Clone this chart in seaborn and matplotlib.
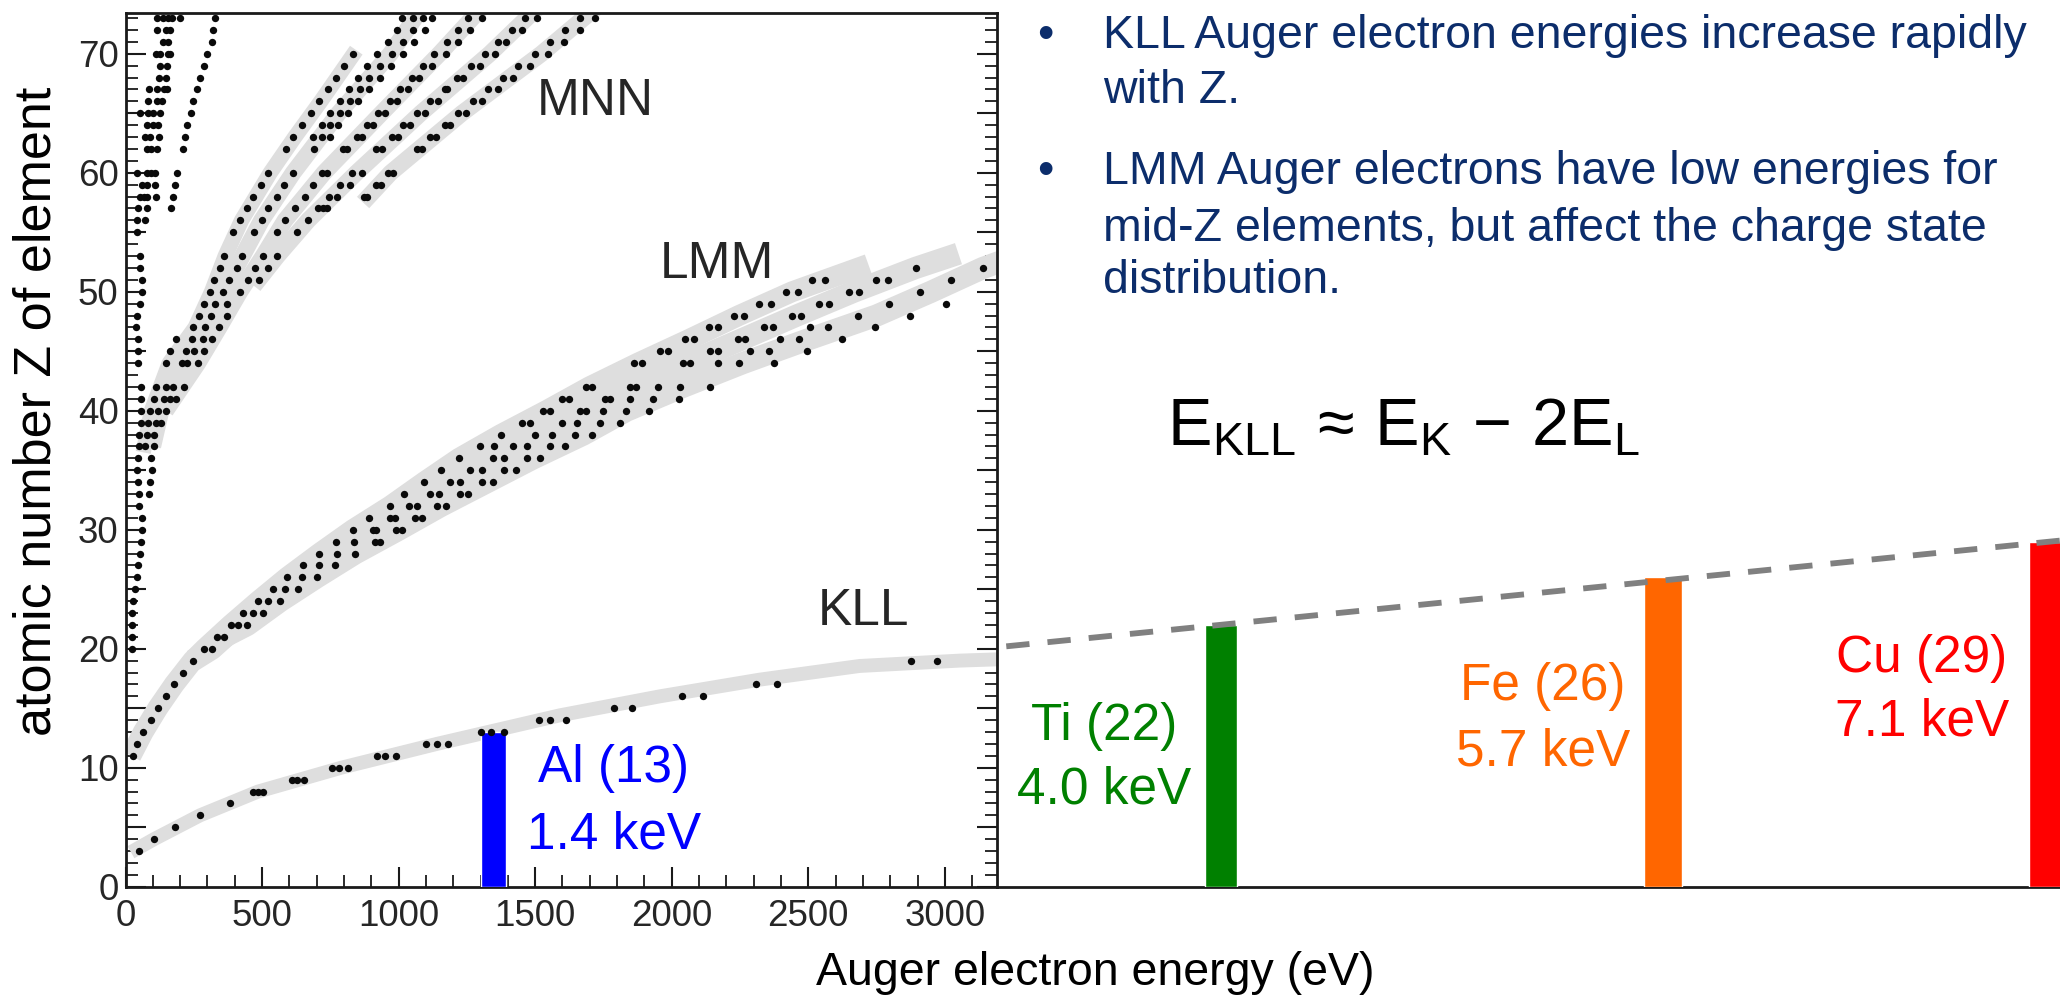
import matplotlib
matplotlib.use("Agg")
import matplotlib.pyplot as plt
import seaborn as sns
import pandas as pd
from matplotlib.ticker import MultipleLocator, FuncFormatter

# ------------------------------------------------------------------
# Data (energies in eV, Z = atomic number)
# ------------------------------------------------------------------
# KLL Auger lines (black dots)
kll_z = [3, 4, 5, 6, 7, 8, 9, 10, 11, 12, 13, 14, 15, 16, 17, 19]
kll_e = [[49], [105], [181], [273], [383], [468, 486, 504], [608, 629, 653],
         [757, 782, 815], [922, 952, 990], [1102, 1139, 1182], [1300, 1340, 1387],
         [1514, 1554, 1612], [1789, 1856], [2038, 2115], [2310, 2384], [2878, 2973]]

# LMM Auger lines
lmm_z = [11, 12, 13, 14, 15, 16, 17, 18, 19, 20, 21, 22, 23, 24, 25, 26, 27, 28, 29,
         30, 31, 32, 33, 34, 35, 36, 37, 38, 39, 40, 41, 42, 44, 45, 46, 47, 48, 49,
         50, 51, 52]
lmm_e = [[26], [43], [65], [92], [118], [147], [178], [212], [246], [289, 316],
         [334, 361], [385, 413, 446], [431, 468, 504], [486, 523, 566],
         [539, 584, 633], [592, 645, 700], [649, 709, 767], [709, 773, 840],
         [770, 836, 913, 932], [832, 905, 917, 990, 1011], [892, 968, 986, 1060, 1086],
         [970, 1039, 1066, 1139, 1172], [1019, 1114, 1149, 1224, 1255],
         [1093, 1188, 1224, 1304, 1344], [1154, 1261, 1307, 1387, 1429],
         [1221, 1344, 1387, 1469, 1517], [1298, 1350, 1420, 1471, 1554, 1609],
         [1374, 1499, 1560, 1645, 1707], [1450, 1480, 1600, 1654, 1737, 1810],
         [1530, 1555, 1666, 1686, 1749, 1834, 1917],
         [1600, 1625, 1755, 1773, 1847, 1932, 2027],
         [1688, 1709, 1847, 1869, 1950, 2032, 2139],
         [1861, 1892, 2042, 2066, 2170, 2245, 2373],
         [1956, 1985, 2139, 2168, 2286, 2355, 2497],
         [2048, 2081, 2243, 2270, 2398, 2465, 2625],
         [2136, 2170, 2338, 2371, 2508, 2573, 2743],
         [2227, 2265, 2441, 2475, 2682, 2874],
         [2320, 2363, 2540, 2576, 2796, 3006],
         [2420, 2463, 2648, 2685, 2908],
         [2514, 2563, 2747, 2792, 3024],
         [2893, 3140]]

# MNN Auger lines
mnn_z = [37, 38, 39, 40, 41, 42, 44, 45, 46, 47, 48, 49, 50, 51, 52, 53, 55, 56, 57,
         58, 59, 60, 62, 63, 64, 65, 66, 67, 68, 69, 70, 71, 72, 73]
mnn_e = [[72, 106], [79, 106], [84, 111, 129], [88, 118, 147], [106, 140, 163, 186],
         [113, 147, 175, 215], [147, 208, 227, 265], [163, 220, 249, 288],
         [186, 242, 283, 317], [248, 291, 343], [270, 312, 370], [287, 328, 370],
         [309, 358, 419], [324, 380, 449, 490], [346, 407, 474, 523],
         [361, 428, 504, 556], [392, 470, 553, 629], [419, 498, 584, 669],
         [444, 523, 620, 706, 724, 736], [468, 553, 657, 746, 775, 873, 885],
         [495, 580, 687, 785, 822, 919, 934], [523, 614, 718, 736, 828, 865, 962, 980],
         [586, 690, 797, 812, 919, 938, 1068, 1084],
         [614, 685, 718, 749, 846, 865, 974, 999, 1115, 1137],
         [645, 718, 749, 779, 883, 907, 1017, 1041, 1169, 1188],
         [678, 749, 785, 816, 925, 950, 1066, 1096, 1218, 1246],
         [709, 785, 822, 852, 968, 993, 1115, 1145, 1273, 1304],
         [740, 819, 858, 892, 1005, 1035, 1169, 1178, 1328, 1365],
         [770, 852, 892, 932, 1048, 1075, 1212, 1237, 1383, 1419],
         [800, 883, 932, 971, 1088, 1121, 1265, 1298, 1438, 1481],
         [834, 922, 974, 1017, 1130, 1173, 1316, 1352, 1499, 1548],
         [962, 1017, 1056, 1176, 1218, 1365, 1395, 1554, 1605],
         [993, 1053, 1096, 1218, 1261, 1414, 1450, 1609, 1664],
         [1011, 1053, 1090, 1121, 1255, 1304, 1462, 1505, 1664, 1718]]

# low-energy lines close to the Z axis
low_z = [20, 21, 22, 23, 24, 25, 26, 27, 28, 29, 30, 31, 32, 33, 34, 35, 36, 37, 38,
         39, 40, 41, 42, 44, 45, 46, 47, 48, 49, 50, 51, 52, 53, 55, 56, 57, 58, 59,
         60, 62, 63, 64, 65, 66, 67, 68, 69, 70, 71, 72, 73]
low_e = [[22], [23], [23], [25], [29], [35], [41], [44], [53], [55], [59], [59], [51],
         [51, 86], [47, 90], [41, 96], [47, 92], [50], [50], [55], [55], [57], [57],
         [45], [45], [45], [40], [41], [53], [59], [59], [53], [53], [43], [43, 71],
         [47, 80, 165], [53, 66, 78, 111, 175], [59, 80, 108, 181],
         [41, 78, 95, 108, 190], [80, 95, 114, 212], [71, 90, 124, 218],
         [80, 100, 120, 226], [53, 84, 102, 126, 239], [84, 114, 132, 248],
         [87, 114, 141, 153, 260], [124, 148, 273], [126, 151, 287],
         [110, 126, 157, 163, 297], [138, 157, 316], [117, 148, 163, 322],
         [114, 138, 157, 169, 199, 328]]

# grey line-width bands (centre lines)
kll_band_z = [2.9, 4, 6, 8, 10, 12, 14.4, 16.0, 17.4, 18.55, 19.0, 19.15]
kll_band_e = [20, 105, 273, 486, 790, 1140, 1590, 1957, 2322, 2688, 3054, 3250]
lmm_band1_z = [11, 13, 15, 17, 19, 20, 22, 24, 26, 28, 30, 32, 34, 36, 38, 40, 42,
               44, 46, 48, 50, 52.3]
lmm_band1_e = [20, 65, 118, 178, 246, 290, 385, 486, 592, 709, 832, 970, 1093, 1221,
               1374, 1540, 1698, 1876, 2064, 2246, 2441, 2720]
lmm_band2_z = [19, 20, 22, 24, 26, 28, 30, 32, 34, 36, 38, 40, 42, 44, 46, 48, 50,
               52, 53.2]
lmm_band2_e = [246, 316, 413, 523, 645, 773, 911, 1052, 1206, 1365, 1530, 1676, 1858,
               2054, 2257, 2458, 2666, 2893, 3050]
lmm_band3_z = [21, 22, 24, 26, 28, 30, 32, 34, 36, 38, 40, 42, 44, 46, 48, 50, 52, 53]
lmm_band3_e = [361, 446, 566, 700, 840, 1000, 1155, 1324, 1493, 1676, 1834, 2040,
               2260, 2500, 2750, 2950, 3140, 3260]
mnn_band1_z = [36.5, 40, 44, 47, 50, 53, 56, 60, 63, 66, 70.3]
mnn_band1_e = [65, 95, 160, 255, 315, 365, 425, 530, 620, 715, 845]
mnn_band2_z = [37, 40, 44, 47, 50, 53, 56, 60, 65, 70, 74]
mnn_band2_e = [100, 130, 225, 291, 358, 428, 498, 614, 780, 970, 1090]
mnn_band3_z = [40, 44, 47, 50, 53, 56, 60, 65, 70, 74]
mnn_band3_e = [147, 265, 343, 419, 504, 584, 727, 937, 1150, 1310]
mnn_band4_z = [50.5, 53, 56, 60, 65, 70, 74]
mnn_band4_e = [470, 556, 669, 846, 1081, 1334, 1515]
mnn_band5_z = [57.5, 60, 65, 70, 74]
mnn_band5_e = [870, 971, 1232, 1523, 1730]

# highlighted elements (KLL energy in eV, Z)
elem_names = ["Al", "Ti", "Fe", "Cu"]
elem_z = [13, 22, 26, 29]
elem_e = [1347, 4011, 5628, 7030]
elem_w = [92, 120, 139, 120]
elem_kev = ["1.4 keV", "4.0 keV", "5.7 keV", "7.1 keV"]
elem_colors = ["#0000ff", "#008000", "#ff6600", "#ff0000"]

# dashed trend line across the bar tops
trend_e = [3225, 7090]
trend_z = [20.2, 29.1]

bullets = [["KLL Auger electron energies increase rapidly", "with Z."],
           ["LMM Auger electrons have low energies for",
            "mid-Z elements, but affect the charge state", "distribution."]]

# ------------------------------------------------------------------
sns.set_theme(style="white")
plt.rcParams["font.family"] = ["Liberation Sans", "DejaVu Sans"]
plt.rcParams["mathtext.fontset"] = "custom"
plt.rcParams["mathtext.rm"] = "Liberation Sans"
plt.rcParams["mathtext.it"] = "Liberation Sans:italic"

W, H = 2060, 997
fig = plt.figure(figsize=(W / 100, H / 100), dpi=100)


def fx(x):
    return x / W


def fy(y):
    return 1 - y / H


X0, X1, Y0, Y1 = 125.5, 996.7, 886.7, 12.7
EMAX = 3190.0
ZMAX = 73.45
pxe = (X1 - X0) / EMAX

ax = fig.add_axes([fx(X0), fy(Y0), (X1 - X0) / W, (Y0 - Y1) / H])
ax2 = fig.add_axes([fx(X1), fy(Y0), (W - X1) / W, (Y0 - Y1) / H])
ax2.patch.set_alpha(0)


def flat(zs, es):
    return pd.DataFrame({"Z": [z for z, row in zip(zs, es) for _ in row],
                         "E": [e for row in es for e in row]})


band_color = "#dedede"
bands = [(kll_band_e, kll_band_z, 10),
         (lmm_band1_e, lmm_band1_z, 15),
         (lmm_band2_e, lmm_band2_z, 16),
         (lmm_band3_e, lmm_band3_z, 16),
         (mnn_band1_e, mnn_band1_z, 11),
         (mnn_band2_e, mnn_band2_z, 12),
         (mnn_band3_e, mnn_band3_z, 12),
         (mnn_band4_e, mnn_band4_z, 12),
         (mnn_band5_e, mnn_band5_z, 12)]
for be, bz, lw in bands:
    ax.plot(be, bz, color=band_color, lw=lw, solid_capstyle="butt",
            solid_joinstyle="round", zorder=1)

dots = pd.concat([flat(kll_z, kll_e), flat(lmm_z, lmm_e),
                  flat(mnn_z, mnn_e), flat(low_z, low_e)], ignore_index=True)
sns.scatterplot(data=dots, x="E", y="Z", color="#0a0a0a", s=28, linewidth=0,
                ax=ax, zorder=4, legend=False)

# Al bar in the left panel, others in the extension
ax.bar([elem_e[0]], [elem_z[0]], width=elem_w[0], color=elem_colors[0], zorder=3)
ax2.bar(elem_e[1:], elem_z[1:], width=elem_w[1:], color=elem_colors[1:], zorder=3)
ax2.plot(trend_e, trend_z, color="#808080", lw=4.2, dashes=(4.0, 3.1), zorder=4)

ax.set_xlim(0, EMAX)
ax.set_ylim(0, ZMAX)
ax2.set_xlim(EMAX, EMAX + (W - X1) / pxe)
ax2.set_ylim(0, ZMAX)

# frame / ticks of the left panel
for sp in ax.spines.values():
    sp.set_linewidth(2.0)
    sp.set_color("#1a1a1a")
ax.xaxis.set_major_locator(MultipleLocator(500))
ax.xaxis.set_minor_locator(MultipleLocator(100))
ax.yaxis.set_major_locator(MultipleLocator(5))
ax.yaxis.set_minor_locator(MultipleLocator(1))
ax.yaxis.set_major_formatter(FuncFormatter(
    lambda v, p: f"{int(round(v))}" if int(round(v)) % 10 == 0 else ""))
ax.tick_params(which="both", direction="in", top=False, right=True,
               bottom=True, left=True, color="#1a1a1a")
ax.tick_params(which="major", length=14.5, width=1.5, labelsize=26.5)
ax.tick_params(which="minor", length=8.5, width=1.3)
ax.tick_params(axis="x", which="major", pad=9)
ax.tick_params(axis="y", which="major", pad=5)
ax.set_xlabel("")
ax.set_ylabel("")

for name in ["top", "left", "right"]:
    ax2.spines[name].set_visible(False)
ax2.spines["bottom"].set_linewidth(2.0)
ax2.spines["bottom"].set_color("#1a1a1a")
ax2.set_xticks([])
ax2.set_yticks([])

# axis titles
fig.text(fx(37), fy(411), "atomic number Z of element", rotation=90,
         ha="center", va="center", fontsize=37.5, color="black")
fig.text(fx(1095), fy(985), "Auger electron energy (eV)", ha="center",
         va="baseline", fontsize=33.5, color="black")

# series labels
fig.text(fx(537), fy(115), "MNN", ha="left", va="baseline", fontsize=37)
fig.text(fx(660), fy(278), "LMM", ha="left", va="baseline", fontsize=37)
fig.text(fx(818), fy(625), "KLL", ha="left", va="baseline", fontsize=37)

# element labels
label_cx = [614, 1104, 1543, 1922]
label_y1 = [782, 740, 700, 672]
label_y2 = [848, 803, 765, 736]
for i in range(4):
    fig.text(fx(label_cx[i]), fy(label_y1[i]), f"{elem_names[i]} ({elem_z[i]})",
             ha="center", va="baseline", fontsize=37, color=elem_colors[i])
    fig.text(fx(label_cx[i]), fy(label_y2[i]), elem_kev[i],
             ha="center", va="baseline", fontsize=37, color=elem_colors[i])

# bullet text
navy = "#0c2d6b"
bullet_y = [[48, 103], [184, 241, 293]]
for lines, ys in zip(bullets, bullet_y):
    fig.text(fx(1045), fy(ys[0]), "\u2022", ha="center", va="baseline",
             fontsize=33.5, color=navy)
    for t, y in zip(lines, ys):
        fig.text(fx(1102.6), fy(y), t, ha="left", va="baseline",
                 fontsize=33.5, color=navy)

# formula
fig.text(fx(1167), fy(445), r"$\mathregular{E_{KLL}\,\approx\,E_K\,-\,2E_L}$",
         ha="left", va="baseline", fontsize=48, color="black")

fig.savefig("out.png", dpi=100)
